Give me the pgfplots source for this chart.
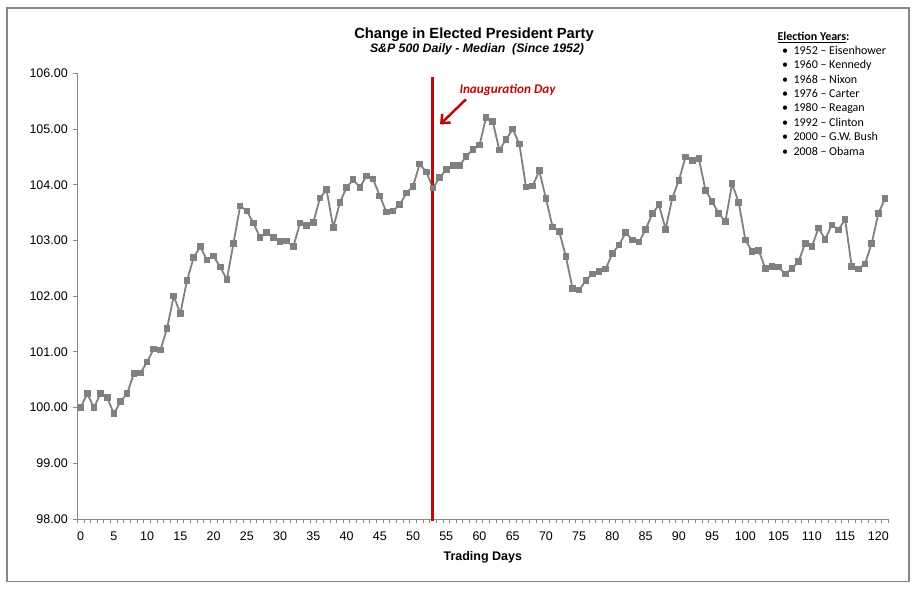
\documentclass[border=0pt]{standalone}
\usepackage{fontspec}
\setmainfont{Liberation Sans}
\newfontfamily\calibri{Carlito}
\usepackage{pgfplots}
\usepackage{pgfplotstable}
\pgfplotsset{compat=1.18}
\usetikzlibrary{arrows.meta}

\definecolor{seriesgray}{RGB}{128,128,128}
\definecolor{axisgray}{RGB}{134,134,134}
\definecolor{inaugred}{RGB}{190,8,8}

% S&P 500 daily median, trading days 0..121
\pgfplotstableread{
day value
0 100.00
1 100.25
2 100.00
3 100.25
4 100.18
5 99.89
6 100.11
7 100.25
8 100.61
9 100.62
10 100.82
11 101.05
12 101.03
13 101.42
14 102.00
15 101.69
16 102.28
17 102.69
18 102.89
19 102.65
20 102.72
21 102.52
22 102.30
23 102.95
24 103.62
25 103.53
26 103.31
27 103.05
28 103.14
29 103.05
30 102.98
31 102.99
32 102.89
33 103.31
34 103.27
35 103.32
36 103.76
37 103.91
38 103.23
39 103.68
40 103.95
41 104.09
42 103.95
43 104.16
44 104.10
45 103.80
46 103.51
47 103.53
48 103.64
49 103.85
50 103.97
51 104.37
52 104.23
53 103.94
54 104.13
55 104.27
56 104.34
57 104.34
58 104.51
59 104.63
60 104.71
61 105.21
62 105.13
63 104.62
64 104.81
65 105.00
66 104.73
67 103.96
68 103.98
69 104.25
70 103.75
71 103.24
72 103.16
73 102.71
74 102.14
75 102.11
76 102.28
77 102.40
78 102.44
79 102.49
80 102.77
81 102.92
82 103.14
83 103.01
84 102.97
85 103.20
86 103.48
87 103.64
88 103.20
89 103.76
90 104.08
91 104.50
92 104.44
93 104.47
94 103.90
95 103.70
96 103.48
97 103.34
98 104.02
99 103.68
100 103.01
101 102.80
102 102.82
103 102.50
104 102.53
105 102.52
106 102.40
107 102.50
108 102.62
109 102.95
110 102.89
111 103.22
112 103.02
113 103.28
114 103.19
115 103.38
116 102.53
117 102.49
118 102.58
119 102.95
120 103.48
121 103.75
}\spdata

\begin{document}
\begin{tikzpicture}[x=1pt,y=1pt]
\path[use as bounding box] (0,0) rectangle (915,589);
\draw[axisgray, line width=1.2pt] (7,7.5) rectangle (909,581);

\begin{axis}[
  at={(77.3pt,70pt)}, anchor=south west,
  scale only axis, width=811pt, height=445.7pt,
  xmin=-0.5, xmax=121.5, ymin=98, ymax=106,
  axis x line=bottom, axis y line=left,
  axis line style={-, axisgray, line width=0.9pt},
  tick align=outside,
  major tick length=4pt, minor tick length=4pt,
  tick style={axisgray, line width=0.8pt},
  xtick={0,5,...,120},
  minor xtick={-0.5,0.5,...,121.5},
  major x tick style={draw=none},
  ytick={98,99,...,106},
  yticklabel style={/pgf/number format/fixed,
    /pgf/number format/fixed zerofill,
    /pgf/number format/precision=2, xshift=-2pt},
  xticklabel style={yshift=-5pt},
  ticklabel style={font=\fontsize{12.5}{14}\selectfont},
  /pgf/number format/assume math mode=true,
  xlabel={Trading Days},
  every axis x label/.style={at={(axis description cs:0.5,0)}, anchor=base,
    yshift=-41.5pt, font=\bfseries\fontsize{12.5}{14}\selectfont},
  clip=false,
]
\addplot[seriesgray, line width=1.8pt, mark=square*, mark size=2.4pt,
  mark options={fill=seriesgray, draw=seriesgray}] table[x=day, y=value] {\spdata};
\addplot[inaugred, line width=3pt] coordinates {(53,97.96) (53,105.94)};
\end{axis}

% titles
\node[anchor=base, inner sep=0, font=\bfseries\fontsize{14.7}{17}\selectfont]
  at (474,550.5) {Change in Elected President Party};
\node[anchor=base, inner sep=0, font=\bfseries\itshape\fontsize{12.3}{14}\selectfont]
  at (477,536) {S\&P 500 Daily - Median\ \ (Since 1952)};

% inauguration annotation
\node[anchor=base west, inner sep=0, text=inaugred,
  font=\calibri\bfseries\itshape\fontsize{13.2}{15}\selectfont]
  at (459.3,495.7) {Inauguration Day};
\draw[inaugred, line width=2.5pt, -{Straight Barb[length=7pt,width=12pt]}]
  (466,489.7) -- (440,464.5);

% election years box
\node[anchor=base west, inner sep=0, font=\calibri\bfseries\fontsize{12}{14}\selectfont]
  at (777.3,548) {\underline{Election Years}:};
\foreach \t [count=\i from 0] in {1952 – Eisenhower, 1960 – Kennedy, 1968 – Nixon,
    1976 – Carter, 1980 – Reagan, 1992 – Clinton, 2000 – G.W. Bush, 2008 – Obama} {
  \node[anchor=base, inner sep=0, font=\calibri\fontsize{12}{14}\selectfont]
    at (785,534.7-14.39*\i) {•};
  \node[anchor=base west, inner sep=0, font=\calibri\fontsize{12}{14}\selectfont]
    at (793.3,534.7-14.39*\i) {\t};
}
\end{tikzpicture}
\end{document}
